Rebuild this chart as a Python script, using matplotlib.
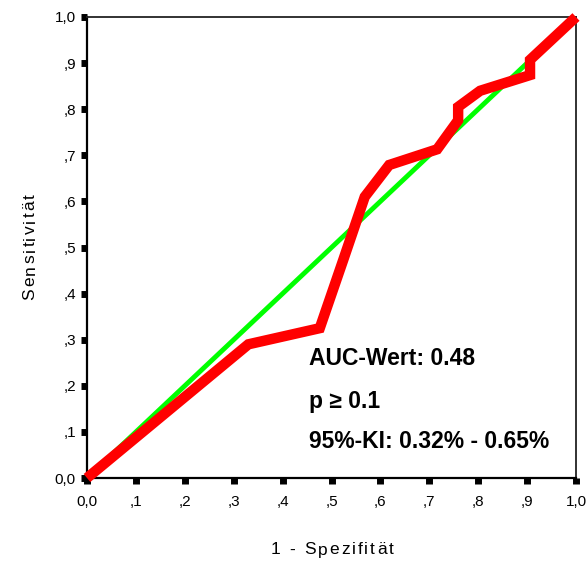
import matplotlib
matplotlib.use("Agg")
import matplotlib.pyplot as plt

plt.rcParams['font.family'] = ['Liberation Sans', 'DejaVu Sans']

# ROC curve
fpr = [0.0, 0.330, 0.476, 0.524, 0.568, 0.618, 0.716, 0.759, 0.759, 0.804, 0.906, 0.906, 1.0]
tpr = [0.0, 0.290, 0.325, 0.473, 0.610, 0.679, 0.713, 0.776, 0.805, 0.840, 0.874, 0.907, 1.0]
ref_x = [0.0, 1.0]
ref_y = [0.0, 1.0]

tick_vals = [0.0, 0.1, 0.2, 0.3, 0.4, 0.5, 0.6, 0.7, 0.8, 0.9, 1.0]
tick_labels = ["0,0", ",1", ",2", ",3", ",4", ",5", ",6", ",7", ",8", ",9", "1,0"]

annot = ["AUC-Wert: 0.48", "p \u2265 0.1", "95%-KI: 0.32% - 0.65%"]
annot_y = [0.260, 0.165, 0.080]


def spaced_text(fig, x, y, s, spacing, rotation=0, **kw):
    # SPSS draws axis titles with extra letter spacing
    r = fig.canvas.get_renderer()
    widths = []
    for ch in s:
        t = fig.text(0, 0, ch, **kw)
        widths.append(t.get_window_extent(r).width if ch != " " else 0)
        t.remove()
    sp = fig.text(0, 0, "a a", **kw)
    w_sp = sp.get_window_extent(r).width
    sp.remove()
    a = fig.text(0, 0, "aa", **kw)
    w_sp -= a.get_window_extent(r).width
    a.remove()
    widths = [w if ch != " " else w_sp for ch, w in zip(s, widths)]
    total = sum(widths) + spacing * (len(s) - 1)
    W, H = fig.bbox.width, fig.bbox.height
    pos = -total / 2
    for ch, w in zip(s, widths):
        if rotation == 0:
            fig.text(x + pos / W, y, ch, ha="left", va="center", **kw)
        else:
            fig.text(x, y + pos / H, ch, ha="center", va="bottom", rotation=90, **kw)
        pos += w + spacing


fig = plt.figure(figsize=(5.86, 5.62), dpi=100)
ax = fig.add_axes([87 / 586, 1 - 478 / 562, 489 / 586, 461 / 562])

ax.plot(ref_x, ref_y, color="#00ff00", lw=3.5, solid_capstyle="butt", zorder=2)
ax.plot(fpr, tpr, color="#ff0000", lw=7.5, solid_capstyle="butt",
        solid_joinstyle="miter", zorder=3, clip_on=False)

for txt, yy in zip(annot, annot_y):
    ax.text(0.454, yy, txt, fontsize=16.5, fontweight="bold", va="center", ha="left")

ax.set_xlim(0, 1)
ax.set_ylim(0, 1)
ax.set_xticks(tick_vals)
ax.set_xticklabels(tick_labels)
ax.set_yticks(tick_vals)
ax.set_yticklabels(tick_labels)
ax.tick_params(axis="x", direction="out", length=4, width=5, pad=8, labelsize=11)
ax.tick_params(axis="y", direction="out", length=4, width=5, pad=4, labelsize=11)

for side in ["left", "bottom"]:
    ax.spines[side].set_linewidth(1.6)
for side in ["top", "right"]:
    ax.spines[side].set_linewidth(1.3)
    ax.spines[side].set_color("#222222")

spaced_text(fig, 332 / 586, 1 - 550 / 562, "1 - Spezifit\u00e4t", 2.0, fontsize=12.5)
spaced_text(fig, 30 / 586, 1 - 247 / 562, "Sensitivit\u00e4t", 2.0, rotation=90, fontsize=12.5)

fig.savefig("out.png", dpi=100)
